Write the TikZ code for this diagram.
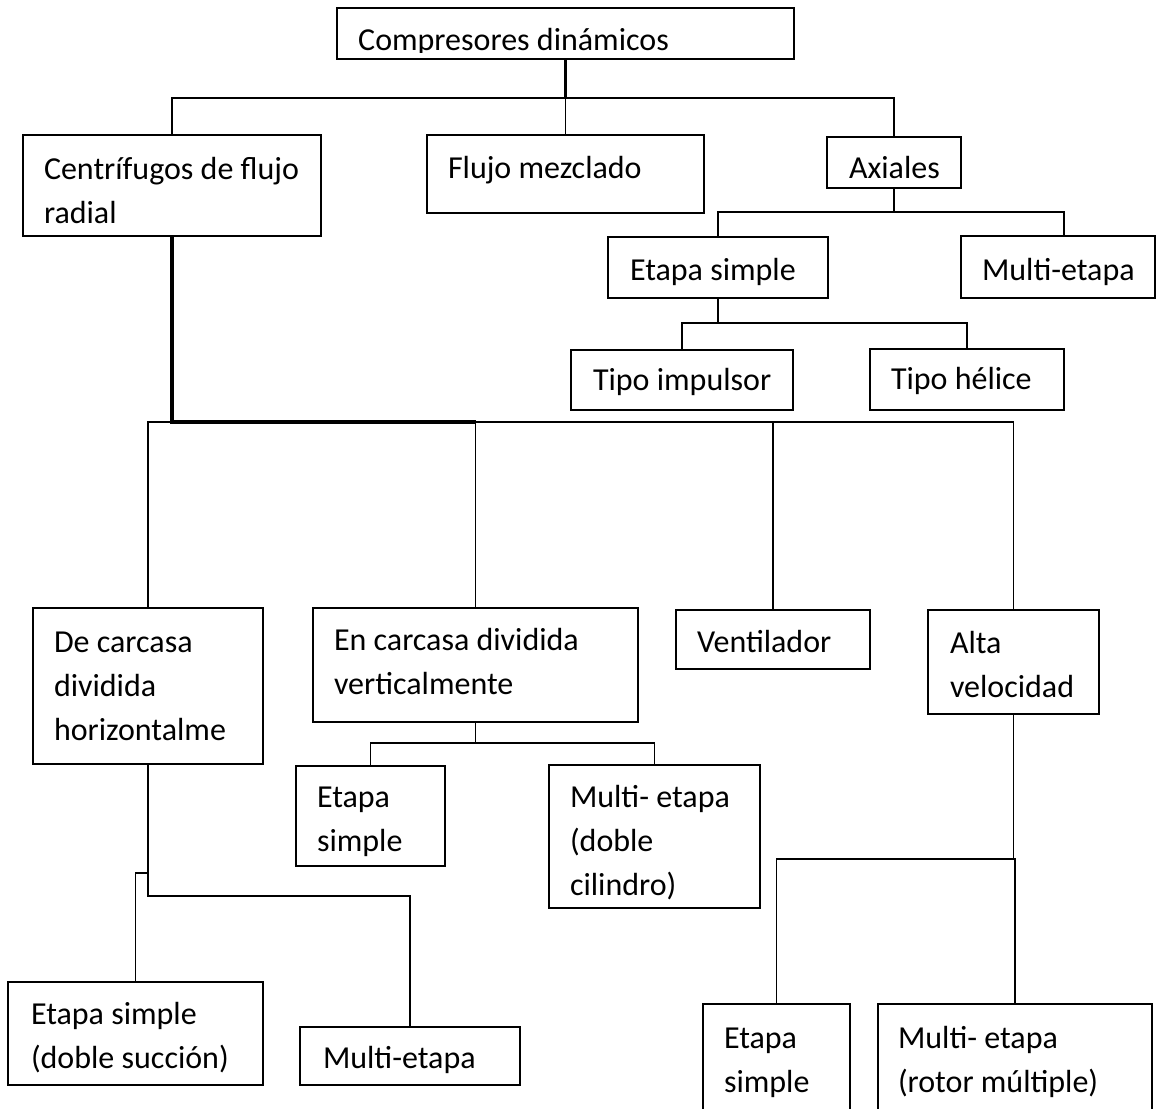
\documentclass[tikz,border=0pt]{standalone}
\usepackage{fontspec}
\setmainfont{Carlito}
\newcommand{\tb}[3]{\makebox[#1pt][l]{\raisebox{\dimexpr-7.9pt-#2pt\relax}[0pt][0pt]{\begin{tabular}{@{}l@{}}#3\end{tabular}}}}
\begin{document}
\begin{tikzpicture}[x=1pt,y=-1pt,
  font=\fontsize{32}{44}\selectfont,
  box/.style={draw,line width=1.8pt,inner sep=0pt,rectangle},
  con/.style={line width=1.7pt},
  thk/.style={line width=3.2pt}]
\useasboundingbox (0,0) rectangle (1156,1108);
\clip (0,0) rectangle (1156,1108);
% level 0
\node[box,minimum width=457pt,minimum height=51pt] (root) at (565.5,33.5) {};
\begin{scope}
\clip (337,8) rectangle (794,52.5);
\node[anchor=base west,inner sep=0pt] (roottext) at (358,51) {Compresores dinámicos};
\end{scope}
% level 1
\node[box,minimum width=298pt,minimum height=101pt] (cen) at (172,185.5) {\tb{256}{5.5}{Centrífugos de flujo\\radial}};
\node[box,minimum width=277pt,minimum height=78pt] (flu) at (565.5,174) {\tb{235}{-6}{Flujo mezclado}};
\node[box,minimum width=134pt,minimum height=51pt] (axi) at (894,162.5) {\tb{90}{5.5}{Axiales}};
% axial branch
\node[box,minimum width=220pt,minimum height=61pt] (es1) at (718,267.5) {\tb{176}{3}{Etapa simple}};
\node[box,minimum width=194pt,minimum height=62pt] (me1) at (1058,267) {\tb{152}{3}{Multi-etapa}};
\node[box,minimum width=222pt,minimum height=60pt] (tim) at (682,380) {\tb{178}{0}{Tipo impulsor}};
\node[box,minimum width=194pt,minimum height=61pt] (the) at (967,379.5) {\tb{152}{0}{Tipo hélice}};
% centrifugal branch
\node[box,minimum width=230pt,minimum height=156pt] (dch) at (148,686) {\tb{188}{0}{De carcasa\\dividida\\horizontalme}};
\node[box,minimum width=325pt,minimum height=114pt] (ecv) at (475.5,665) {\tb{283}{-2.5}{En carcasa dividida\\verticalmente}};
\node[box,minimum width=194pt,minimum height=59pt] (ven) at (773,639.5) {\tb{152}{2.5}{Ventilador}};
\node[box,minimum width=171pt,minimum height=104pt] (alt) at (1013.5,662) {\tb{127}{3}{Alta\\velocidad}};
\node[box,minimum width=149pt,minimum height=100pt] (esm) at (370.5,816) {\tb{107}{3.5}{Etapa\\simple}};
\node[box,minimum width=211pt,minimum height=143pt] (mcd) at (654.5,836.5) {\tb{169}{5}{Multi- etapa\\(doble\\cilindro)}};
\node[box,minimum width=255pt,minimum height=103pt] (ess) at (135.5,1033.5) {\tb{209}{3}{Etapa simple\\(doble succión)}};
\node[box,minimum width=220pt,minimum height=58pt] (mbl) at (410,1056) {\tb{174}{2}{Multi-etapa}};
\node[box,minimum width=147pt,minimum height=112pt] (esr) at (776.5,1060) {\tb{105}{0}{Etapa\\simple}};
\node[box,minimum width=274pt,minimum height=112pt] (mrm) at (1015,1060) {\tb{234}{0}{Multi- etapa\\(rotor múltiple)}};
% junctions
\coordinate (j0) at (565.5,98);
\coordinate (j1) at (894,212);
\coordinate (j2) at (718,323);
\coordinate (j3) at (172,422);
\coordinate (j4) at (475.5,743);
\coordinate (j5) at (148,896);
\coordinate (j6) at (148,873);
\coordinate (j7) at (1013.5,859);
% connectors
\draw[thk] (root.south) -- (j0);
\draw[con] (cen.north) |- (axi.north |- j0) -- (axi.north);
\draw[con] (j0) -- (flu.north);
\draw[con] (axi.south) -- (j1);
\draw[con] (es1.north) |- ([xshift=6pt]me1.north |- j1) -- ([xshift=6pt]me1.north);
\draw[con] (es1.south) -- (j2);
\draw[con] (tim.north) |- (the.north |- j2) -- (the.north);
\draw[con] (dch.north) |- (alt.north |- j3) -- (alt.north);
\draw[thk] (cen.south) -- (j3) -- (ecv.north |- j3);
\draw[con] (ecv.north |- j3) -- (ecv.north);
\draw[con] (ven.north |- j3) -- (ven.north);
\draw[con] (ecv.south) -- (j4);
\draw[con] (esm.north) |- (mcd.north |- j4) -- (mcd.north);
\draw[con] (dch.south) -- (j5) -| (mbl.north);
\draw[line width=1.3pt] (j6) -| (ess.north);
\draw[con] (alt.south) -- (j7);
\draw[con] (esr.north) |- (mrm.north |- j7) -- (mrm.north);
\end{tikzpicture}
\end{document}
